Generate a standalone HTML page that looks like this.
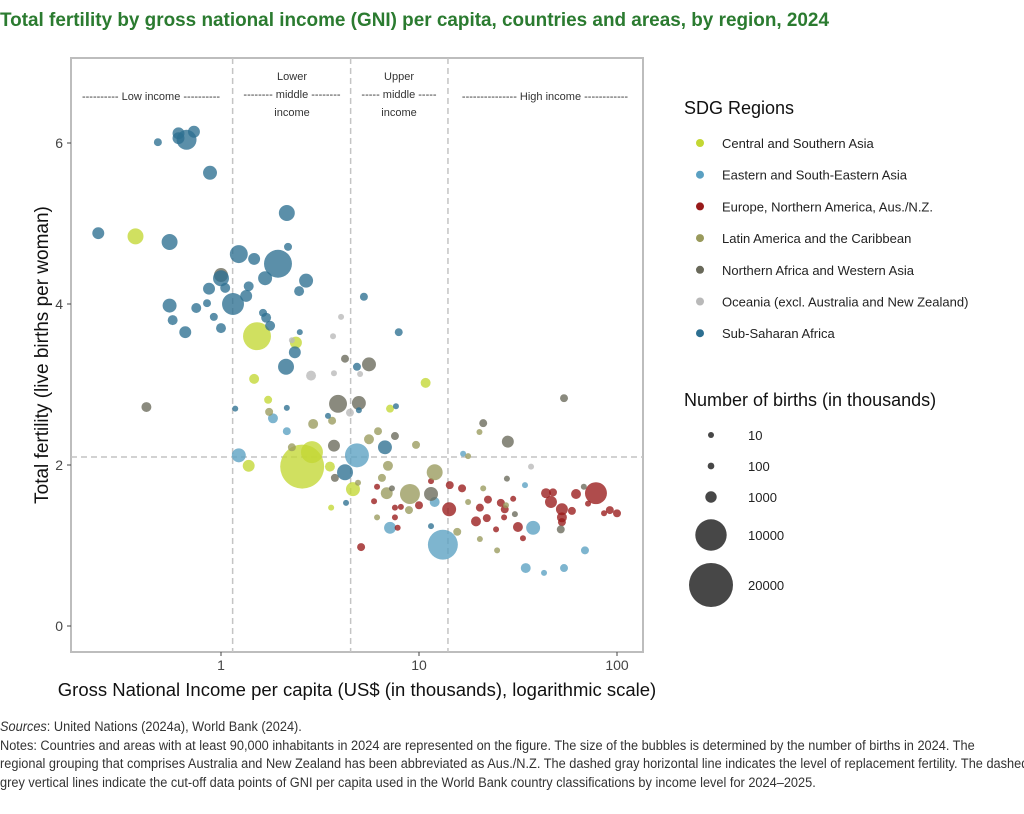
<!DOCTYPE html>
<html><head><meta charset="utf-8"><style>
body{margin:0;background:#fff;width:1024px;height:814px;overflow:hidden;font-family:"Liberation Sans",sans-serif}
#title{position:absolute;left:0;top:9px;font-weight:bold;font-size:19.5px;color:#2b7b30;white-space:nowrap;transform-origin:0 0;transform:scaleX(0.97)}
#notes{position:absolute;left:0;top:718px;font-size:13.5px;line-height:18.5px;color:#333;white-space:nowrap;transform-origin:0 0;transform:scaleX(0.945)}
</style></head><body>
<div id="title">Total fertility by gross national income (GNI) per capita, countries and areas, by region, 2024</div>
<svg id="chart" width="1024" height="814" style="position:absolute;left:0;top:0"></svg>
<div id="notes"><i>Sources</i>: United Nations (2024a), World Bank (2024).<br>Notes: Countries and areas with at least 90,000 inhabitants in 2024 are represented on the figure. The size of the bubbles is determined by the number of births in 2024. The<br>regional grouping that comprises Australia and New Zealand has been abbreviated as Aus./N.Z. The dashed gray horizontal line indicates the level of replacement fertility. The dashed<br>grey vertical lines indicate the cut-off data points of GNI per capita used in the World Bank country classifications by income level for 2024–2025.</div>
<script>
const regions=["Central and Southern Asia","Eastern and South-Eastern Asia","Europe, Northern America, Aus./N.Z.","Latin America and the Caribbean","Northern Africa and Western Asia","Oceania (excl. Australia and New Zealand)","Sub-Saharan Africa"];
const regionColors=["#c3d733","#5aa0c2","#981a1a","#999a5c","#69695a","#b9b9b9","#2d6f91"];
const yTicks=[0,2,4,6];
const xTicks=[1,10,100];
const incomeCutoffs=[1.145,4.515,14.005];
const replacement=2.1;
const sizeLegend=[10,100,1000,10000,20000];
// [gni (thousand US$), tfr, births (thousands)]
const csaData=[[0.37,4.84,2310],[1.52,3.60,7850],[2.39,3.52,1130],[1.47,3.07,670],[1.73,2.81,300],[7.14,2.70,300],[10.8,3.02,670],[1.38,1.99,1130],[2.57,1.98,19950],[2.88,2.16,4700],[3.55,1.98,670],[4.64,1.70,1680],[3.60,1.47,10]];
const seaData=[[1.83,2.58,670],[2.15,2.42,300],[1.23,2.12,1680],[4.86,2.12,5670],[7.14,1.22,1130],[12.0,1.54,670],[13.2,1.01,9070],[16.7,2.14,10],[34.3,1.75,10],[37.7,1.22,1680],[68.9,0.94,300],[34.6,0.72,670],[42.8,0.66,10],[54,0.72,300]];
const eurData=[[6.14,1.73,10],[5.93,1.55,10],[7.56,1.47,10],[8.1,1.48,10],[10,1.50,300],[7.56,1.35,10],[7.8,1.22,10],[5.1,0.98,300],[14.2,1.45,1680],[11.5,1.80,10],[14.3,1.75,300],[16.5,1.71,300],[20.3,1.47,300],[22.3,1.57,300],[22.0,1.34,300],[19.4,1.30,670],[24.5,1.20,10],[25.9,1.53,300],[27.1,1.45,300],[26.9,1.35,10],[31.6,1.23,670],[33.5,1.09,10],[29.9,1.58,10],[43.8,1.65,670],[47.5,1.66,300],[46.4,1.54,1130],[62.1,1.64,670],[78.3,1.65,4700],[71.4,1.52,10],[52.7,1.45,1130],[59.2,1.43,300],[52.7,1.35,670],[52.7,1.29,300],[86,1.40,10],[92,1.44,300],[100,1.40,300]];
const latData=[[1.75,2.66,300],[3.64,2.55,300],[2.92,2.51,670],[2.28,2.22,300],[6.21,2.42,300],[5.59,2.32,670],[9.66,2.25,300],[17.7,2.11,10],[4.92,1.78,10],[6.97,1.99,670],[6.5,1.84,300],[6.87,1.65,1130],[9.0,1.64,3820],[8.9,1.44,300],[12.0,1.91,2310],[15.6,1.17,300],[6.14,1.35,10],[17.7,1.54,10],[21.1,1.71,10],[20.3,1.08,10],[24.8,0.94,10],[20.2,2.41,10],[27.5,1.50,10]];
const nawData=[[1.0,4.36,1680],[4.23,3.32,300],[5.59,3.25,1680],[3.90,2.76,3020],[4.97,2.77,1680],[0.42,2.72,670],[3.72,2.24,1130],[7.56,2.36,300],[3.76,1.84,300],[7.3,1.71,10],[11.5,1.64,1680],[21.1,2.52,300],[28.1,2.29,1130],[54,2.83,300],[27.8,1.83,10],[30.5,1.39,10],[68,1.73,10],[52,1.20,300]];
const oceData=[[2.28,3.55,10],[4.04,3.84,10],[3.68,3.60,10],[2.85,3.11,670],[3.72,3.14,10],[5.04,3.13,10],[4.48,2.65,300],[36.8,1.98,10]];
const ssaData=[[0.48,6.01,300],[0.67,6.04,3820],[0.61,6.12,1130],[0.73,6.14,1130],[0.61,6.06,1130],[0.88,5.63,1680],[0.24,4.88,1130],[0.55,4.77,2310],[1.23,4.62,3020],[1.47,4.56,1130],[1.94,4.50,7850],[2.15,5.13,2310],[2.18,4.71,300],[1.67,4.32,1680],[2.69,4.29,1680],[2.48,4.16,670],[1.38,4.22,670],[1.34,4.10,1130],[1.15,4.0,4700],[1.0,4.32,2310],[0.87,4.19,1130],[1.05,4.20,670],[0.85,4.01,300],[0.75,3.95,670],[0.55,3.98,1680],[0.57,3.80,670],[0.66,3.65,1130],[0.92,3.84,300],[1.0,3.70,670],[1.63,3.89,300],[1.69,3.83,670],[1.77,3.73,670],[2.5,3.65,10],[2.36,3.40,1130],[2.13,3.22,2310],[5.27,4.09,300],[7.9,3.65,300],[4.86,3.22,300],[1.18,2.70,10],[2.15,2.71,10],[7.65,2.73,10],[4.97,2.68,10],[3.47,2.61,10],[4.23,1.91,2310],[4.28,1.53,10],[6.73,2.22,1680],[11.5,1.24,10]];
const seriesData=[csaData,seaData,eurData,latData,nawData,oceData,ssaData];

const NS="http://www.w3.org/2000/svg";
const svg=document.getElementById('chart');
const P={l:71,r:643,t:58,b:652};
const xScale=v=>221+198*Math.log10(v);
const yScale=v=>626-80.5*v;
const rScale=b=>Math.sqrt(9+475*Math.max(0,b-10)/19990);
function mk(tag,attrs,parent){const e=document.createElementNS(NS,tag);for(const k in attrs)e.setAttribute(k,attrs[k]);(parent||svg).appendChild(e);return e;}
function txt(s,attrs,parent){const e=mk('text',attrs,parent);e.textContent=s;return e;}

const frame=mk('rect',{x:P.l,y:P.t,width:P.r-P.l,height:P.b-P.t,fill:'none',stroke:'#bdbdbd','stroke-width':2});


const dash={stroke:'#c4c4c4','stroke-width':1.5,'stroke-dasharray':'6,4',fill:'none'};
incomeCutoffs.forEach(c=>{const l=mk('line',Object.assign({x1:xScale(c),x2:xScale(c),y1:P.t,y2:P.b},dash));

});
const hl=mk('line',Object.assign({x1:P.l,x2:P.r,y1:yScale(replacement),y2:yScale(replacement)},dash));



yTicks.forEach(t=>{const y=yScale(t);mk('line',{x1:P.l-4,x2:P.l,y1:y,y2:y,stroke:'#444'});
const e=txt(String(t),{x:P.l-8,y:y+5,'text-anchor':'end','font-size':14,fill:'#444'});

});
xTicks.forEach(t=>{const x=xScale(t);mk('line',{x1:x,x2:x,y1:P.b,y2:P.b+4,stroke:'#444'});
const e=txt(String(t),{x:x,y:P.b+18,'text-anchor':'middle','font-size':14,fill:'#444'});

});
const yt=txt('Total fertility (live births per woman)',{x:0,y:0,transform:'translate(48,355) rotate(-90)','text-anchor':'middle','font-size':19,fill:'#111'});


const xt=txt('Gross National Income per capita (US$ (in thousands), logarithmic scale)',{x:357,y:696,'text-anchor':'middle','font-size':18.5,fill:'#111'});



const bandLabels=[[151,[['---------- Low income ----------',100]]],[292,[['Lower',80],['-------- middle --------',98],['income',116]]],[399,[['Upper',80],['----- middle -----',98],['income',116]]],[545,[['--------------- High income ------------',100]]]];
bandLabels.forEach(b=>b[1].forEach(l=>{const e=txt(l[0],{x:b[0],y:l[1],'text-anchor':'middle','font-size':11,fill:'#333'});

}));

seriesData.forEach((data,i)=>{data.forEach(d=>{const c=mk('circle',{cx:xScale(d[0]),cy:yScale(d[1]),r:rScale(d[2]),fill:regionColors[i],'fill-opacity':0.78});

});});

const lt=txt('SDG Regions',{x:684,y:114,'font-size':18,fill:'#111'});


regions.forEach((r,i)=>{const y=143+31.7*i;mk('circle',{cx:700,cy:y,r:4,fill:regionColors[i]});
const e=txt(r,{x:722,y:y+5,'font-size':13,fill:'#222'});

});
const st=txt('Number of births (in thousands)',{x:684,y:406,'font-size':18,fill:'#111'});


const sy=[435,466,497,535,585];
sizeLegend.forEach((v,i)=>{mk('circle',{cx:711,cy:sy[i],r:rScale(v),fill:'#333','fill-opacity':0.9});
const e=txt(String(v),{x:748,y:sy[i]+5,'font-size':13,fill:'#222'});

});
</script>
</body></html>
